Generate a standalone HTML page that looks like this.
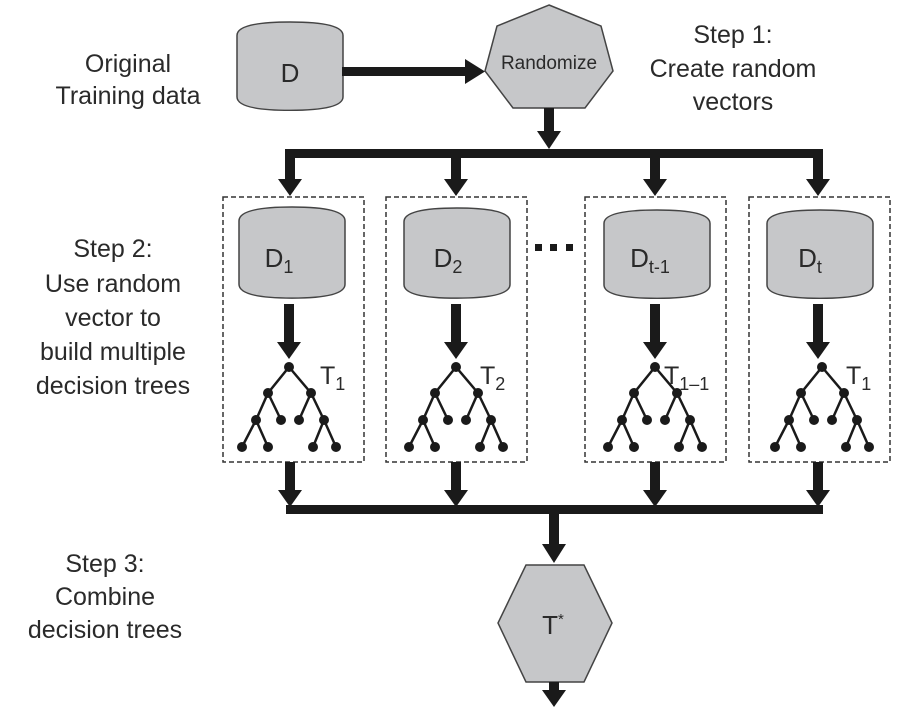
<!DOCTYPE html>
<html><head><meta charset="utf-8"><style>
html,body{margin:0;padding:0;background:#fff;}
svg{display:block;}
text{font-family:"Liberation Sans",Arial,sans-serif;fill:#2a2a2a;}
</style></head><body>
<svg width="910" height="708" viewBox="0 0 910 708" xmlns="http://www.w3.org/2000/svg">
<defs>
<g id="tree">
 <g stroke="#1a1a1a" stroke-width="2.5" fill="none">
  <path d="M0 0 L-21 26 M0 0 L22 26 M-21 26 L-33 53 M-21 26 L-8 53 M22 26 L10 53 M22 26 L35 53 M-33 53 L-47 80 M-33 53 L-21 80 M35 53 L24 80 M35 53 L47 80"/>
 </g>
 <g fill="#1a1a1a">
  <circle cx="0" cy="0" r="5"/><circle cx="-21" cy="26" r="5"/><circle cx="22" cy="26" r="5"/>
  <circle cx="-33" cy="53" r="5"/><circle cx="-8" cy="53" r="5"/><circle cx="10" cy="53" r="5"/><circle cx="35" cy="53" r="5"/>
  <circle cx="-47" cy="80" r="5"/><circle cx="-21" cy="80" r="5"/><circle cx="24" cy="80" r="5"/><circle cx="47" cy="80" r="5"/>
 </g>
</g>
<g id="cyl">
 <path d="M-53 14 Q-53 0 0 0 Q53 0 53 14 L53 78 Q53 92 0 92 Q-53 92 -53 78 Z" fill="#c6c7c9" stroke="#444" stroke-width="1.5"/>
</g>
<g id="dn"><polygon points="-12,0 12,0 0,17" fill="#1a1a1a"/></g>
</defs>

<g font-size="25" text-anchor="middle">
 <text x="128" y="72">Original</text>
 <text x="128" y="104">Training data</text>
 <text x="733" y="43">Step 1:</text>
 <text x="733" y="77">Create random</text>
 <text x="733" y="110">vectors</text>
 <text x="113" y="257">Step 2:</text>
 <text x="113" y="292">Use random</text>
 <text x="113" y="326">vector to</text>
 <text x="113" y="360">build multiple</text>
 <text x="113" y="394">decision trees</text>
 <text x="105" y="572">Step 3:</text>
 <text x="105" y="605">Combine</text>
 <text x="105" y="638">decision trees</text>
</g>

<use href="#cyl" transform="translate(290,22) scale(1,0.96)"/>
<text x="290" y="82" font-size="26" text-anchor="middle">D</text>
<rect x="342" y="67" width="126" height="9" fill="#1a1a1a"/>
<polygon points="465,59 485,71.5 465,84" fill="#1a1a1a"/>

<polygon points="549,5 601,26 613,71 585,108 513,108 485,71 497,26" fill="#c6c7c9" stroke="#444" stroke-width="1.5"/>
<text x="549" y="69" font-size="19" text-anchor="middle">Randomize</text>
<rect x="544" y="108" width="10" height="25" fill="#1a1a1a"/>
<polygon points="537,131 561,131 549,149" fill="#1a1a1a"/>

<rect x="285" y="149" width="538" height="9" fill="#1a1a1a"/>

<g fill="none" stroke="#333" stroke-width="1.5" stroke-dasharray="5,3">
 <rect x="223" y="197" width="141" height="265"/>
 <rect x="386" y="197" width="141" height="265"/>
 <rect x="585" y="197" width="141" height="265"/>
 <rect x="749" y="197" width="141" height="265"/>
</g>
<g fill="#1a1a1a">
 <rect x="535" y="244" width="7" height="7"/><rect x="550" y="244" width="7" height="7"/><rect x="566" y="244" width="7" height="7"/>
</g>

<g>
 <rect x="285" y="153" width="10" height="28" fill="#1a1a1a"/><use href="#dn" transform="translate(290,179)"/>
 <use href="#cyl" transform="translate(292,207) scale(1,0.99)"/>
 <text x="279" y="267" font-size="26" text-anchor="middle">D<tspan font-size="18" dy="6">1</tspan></text>
 <rect x="284" y="304" width="10" height="40" fill="#1a1a1a"/><use href="#dn" transform="translate(289,342)"/>
 <use href="#tree" transform="translate(289,367)"/>
 <text x="320" y="384" font-size="25">T<tspan font-size="18" dy="6">1</tspan></text>
 <rect x="285" y="462" width="10" height="30" fill="#1a1a1a"/><use href="#dn" transform="translate(290,490)"/>

 <rect x="451" y="153" width="10" height="28" fill="#1a1a1a"/><use href="#dn" transform="translate(456,179)"/>
 <use href="#cyl" transform="translate(457,208) scale(1,0.98)"/>
 <text x="448" y="267" font-size="26" text-anchor="middle">D<tspan font-size="18" dy="6">2</tspan></text>
 <rect x="451" y="304" width="10" height="40" fill="#1a1a1a"/><use href="#dn" transform="translate(456,342)"/>
 <use href="#tree" transform="translate(456,367)"/>
 <text x="480" y="384" font-size="25">T<tspan font-size="18" dy="6">2</tspan></text>
 <rect x="451" y="462" width="10" height="30" fill="#1a1a1a"/><use href="#dn" transform="translate(456,490)"/>

 <rect x="650" y="153" width="10" height="28" fill="#1a1a1a"/><use href="#dn" transform="translate(655,179)"/>
 <use href="#cyl" transform="translate(657,210) scale(1,0.96)"/>
 <text x="650" y="267" font-size="26" text-anchor="middle">D<tspan font-size="18" dy="6">t-1</tspan></text>
 <rect x="650" y="304" width="10" height="40" fill="#1a1a1a"/><use href="#dn" transform="translate(655,342)"/>
 <use href="#tree" transform="translate(655,367)"/>
 <text x="664" y="384" font-size="25">T<tspan font-size="18" dy="6">1–1</tspan></text>
 <rect x="650" y="462" width="10" height="30" fill="#1a1a1a"/><use href="#dn" transform="translate(655,490)"/>

 <rect x="813" y="153" width="10" height="28" fill="#1a1a1a"/><use href="#dn" transform="translate(818,179)"/>
 <use href="#cyl" transform="translate(820,210) scale(1,0.96)"/>
 <text x="810" y="267" font-size="26" text-anchor="middle">D<tspan font-size="18" dy="6">t</tspan></text>
 <rect x="813" y="304" width="10" height="40" fill="#1a1a1a"/><use href="#dn" transform="translate(818,342)"/>
 <use href="#tree" transform="translate(822,367)"/>
 <text x="846" y="384" font-size="25">T<tspan font-size="18" dy="6">1</tspan></text>
 <rect x="813" y="462" width="10" height="30" fill="#1a1a1a"/><use href="#dn" transform="translate(818,490)"/>
</g>

<rect x="286" y="505" width="537" height="9" fill="#1a1a1a"/>
<rect x="549" y="510" width="10" height="36" fill="#1a1a1a"/>
<polygon points="542,544 566,544 554,563" fill="#1a1a1a"/>

<polygon points="526,565 584,565 612,623 584,682 526,682 498,623" fill="#c6c7c9" stroke="#444" stroke-width="1.5"/>
<text x="553" y="634" font-size="26" text-anchor="middle">T<tspan font-size="15" dy="-10">*</tspan></text>
<rect x="549" y="682" width="10" height="10" fill="#1a1a1a"/>
<polygon points="542,690 566,690 554,707" fill="#1a1a1a"/>
</svg>
</body></html>
